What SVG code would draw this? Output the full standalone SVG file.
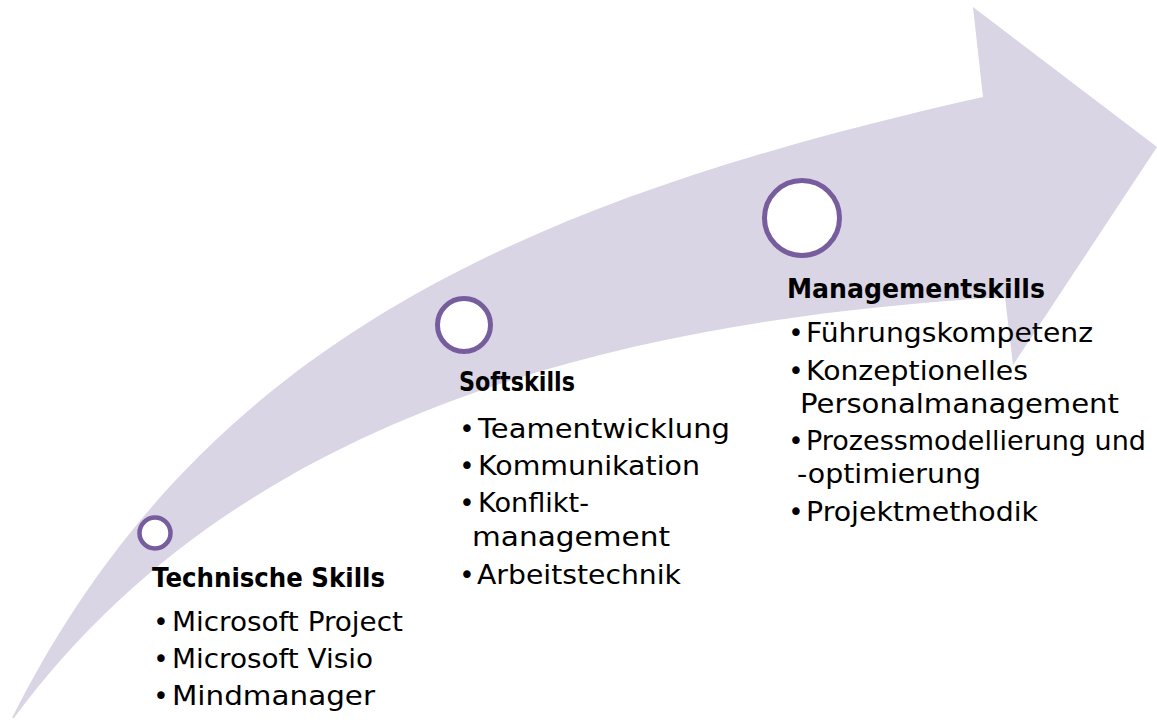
<svg xmlns="http://www.w3.org/2000/svg" width="1157" height="720" viewBox="0 0 1157 720">
  <style>
    .arrow { fill: #D9D5E4; stroke: none; }
    .marker { fill: #FFFFFF; stroke: #775D9D; }
    .head { font-family: "DejaVu Sans", "Liberation Sans", sans-serif; font-weight: bold; font-size: 26px; fill: #000000; }
    .item { font-family: "DejaVu Sans", "Liberation Sans", sans-serif; font-size: 27px; fill: #000000; }
    .dot { font-family: "DejaVu Sans", "Liberation Sans", sans-serif; font-size: 26px; fill: #000000; text-anchor: middle; }
  </style>

  <!-- curved progress arrow -->
  <g id="arrow">
    <path class="arrow" d="M 12 718 C 200 345 517 202 983 97 L 973 7 L 1157 147 L 1013 365 L 1005 297 C 597 321 232 423 14 718 Z"/>
  </g>

  <g id="connectors"></g>

  <!-- stage 1 -->
  <g id="stage-technische-skills">
    <circle class="marker" cx="155" cy="533" r="15.5" stroke-width="4.5"/>
    <text class="head" x="152" y="587" textLength="233" lengthAdjust="spacingAndGlyphs">Technische Skills</text>
    <text class="dot" x="161" y="631">•</text>
    <text class="item" x="172" y="631" textLength="231" lengthAdjust="spacingAndGlyphs">Microsoft Project</text>
    <text class="dot" x="161" y="668">•</text>
    <text class="item" x="172" y="668" textLength="201" lengthAdjust="spacingAndGlyphs">Microsoft Visio</text>
    <text class="dot" x="161" y="705">•</text>
    <text class="item" x="172" y="705" textLength="203" lengthAdjust="spacingAndGlyphs">Mindmanager</text>
  </g>

  <!-- stage 2 -->
  <g id="stage-softskills">
    <circle class="marker" cx="464" cy="325" r="26.5" stroke-width="5"/>
    <text class="head" x="459" y="391" textLength="116" lengthAdjust="spacingAndGlyphs">Softskills</text>
    <text class="dot" x="467" y="438">•</text>
    <text class="item" x="478" y="438" textLength="252" lengthAdjust="spacingAndGlyphs">Teamentwicklung</text>
    <text class="dot" x="467" y="475">•</text>
    <text class="item" x="478" y="475" textLength="222" lengthAdjust="spacingAndGlyphs">Kommunikation</text>
    <text class="dot" x="467" y="512">•</text>
    <text class="item" x="478" y="512" textLength="111" lengthAdjust="spacingAndGlyphs">Konflikt-</text>
    <text class="item" x="472" y="546" textLength="198" lengthAdjust="spacingAndGlyphs">management</text>
    <text class="dot" x="467" y="584">•</text>
    <text class="item" x="477" y="584" textLength="204" lengthAdjust="spacingAndGlyphs">Arbeitstechnik</text>
  </g>

  <!-- stage 3 -->
  <g id="stage-managementskills">
    <circle class="marker" cx="802" cy="218" r="37.5" stroke-width="5"/>
    <text class="head" x="787" y="298" textLength="258" lengthAdjust="spacingAndGlyphs">Managementskills</text>
    <text class="dot" x="796" y="342">•</text>
    <text class="item" x="806" y="342" textLength="287" lengthAdjust="spacingAndGlyphs">Führungskompetenz</text>
    <text class="dot" x="796" y="380">•</text>
    <text class="item" x="806" y="380" textLength="222" lengthAdjust="spacingAndGlyphs">Konzeptionelles</text>
    <text class="item" x="800" y="413" textLength="319" lengthAdjust="spacingAndGlyphs">Personalmanagement</text>
    <text class="dot" x="796" y="450">•</text>
    <text class="item" x="806" y="450" textLength="340" lengthAdjust="spacingAndGlyphs">Prozessmodellierung und</text>
    <text class="item" x="797" y="483" textLength="184" lengthAdjust="spacingAndGlyphs">-optimierung</text>
    <text class="dot" x="796" y="521">•</text>
    <text class="item" x="806" y="521" textLength="232" lengthAdjust="spacingAndGlyphs">Projektmethodik</text>
  </g>
</svg>
